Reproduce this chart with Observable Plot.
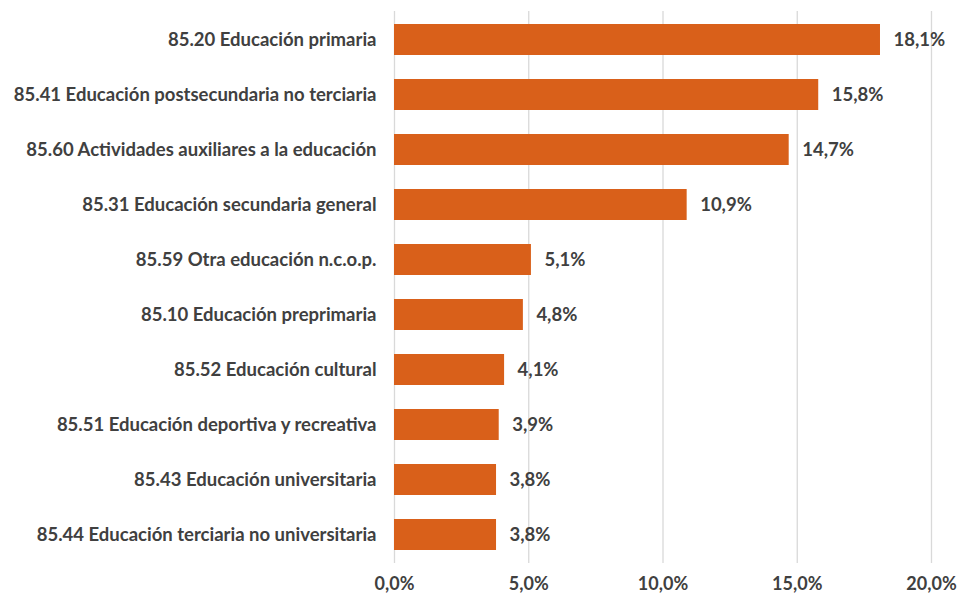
<!DOCTYPE html>
<html>
<head>
<meta charset="utf-8">
<script src="https://cdn.jsdelivr.net/npm/d3@7"></script>
<script src="https://cdn.jsdelivr.net/npm/@observablehq/plot@0.6"></script>
<style>
html, body { margin: 0; padding: 0; background: #fff; }
svg { display: block; }
</style>
</head>
<body>
<div id="chart"></div>
<script>
const categories = [
  "85.20 Educación primaria",
  "85.41 Educación postsecundaria no terciaria",
  "85.60 Actividades auxiliares a la educación",
  "85.31 Educación secundaria general",
  "85.59 Otra educación n.c.o.p.",
  "85.10 Educación preprimaria",
  "85.52 Educación cultural",
  "85.51 Educación deportiva y recreativa",
  "85.43 Educación universitaria",
  "85.44 Educación terciaria no universitaria"
];
const values = [18.1, 15.8, 14.7, 10.9, 5.1, 4.8, 4.1, 3.9, 3.8, 3.8];
const xTicks = [0, 5, 10, 15, 20];

const data = categories.map((c, i) => ({ category: c, value: values[i] }));
const fmt = v => v.toFixed(1).replace(".", ",") + "%";

const chart = Plot.plot({
  width: 959,
  height: 596,
  marginTop: 11,
  marginBottom: 33,
  marginLeft: 394,
  marginRight: 28,
  style: { fontFamily: "Lato, sans-serif", fontSize: "18px", fontWeight: "bold", color: "#404040" },
  x: { domain: [0, 20], ticks: xTicks, tickFormat: fmt, label: null, grid: false },
  y: { domain: categories, paddingInner: 0.44, paddingOuter: 0.22, label: null },
  marks: [
    Plot.ruleX(xTicks, { stroke: "#d9d9d9", strokeWidth: 1.3 }),
    Plot.barX(data, { x: "value", y: "category", fill: "#d9601a" }),
    Plot.text(data, { x: "value", y: "category", text: d => fmt(d.value), textAnchor: "start", dx: 13, fill: "#404040", fontSize: 18.5, fontWeight: "bold" }),
    Plot.axisY({ tickSize: 0, tickPadding: 18, fontSize: 18.5, fill: "#404040" }),
    Plot.axisX({ ticks: xTicks, tickFormat: fmt, tickSize: 0, tickPadding: 14, fontSize: 18, fill: "#404040", anchor: "bottom", label: null })
  ]
});
document.getElementById("chart").appendChild(chart);
</script>
</body>
</html>
